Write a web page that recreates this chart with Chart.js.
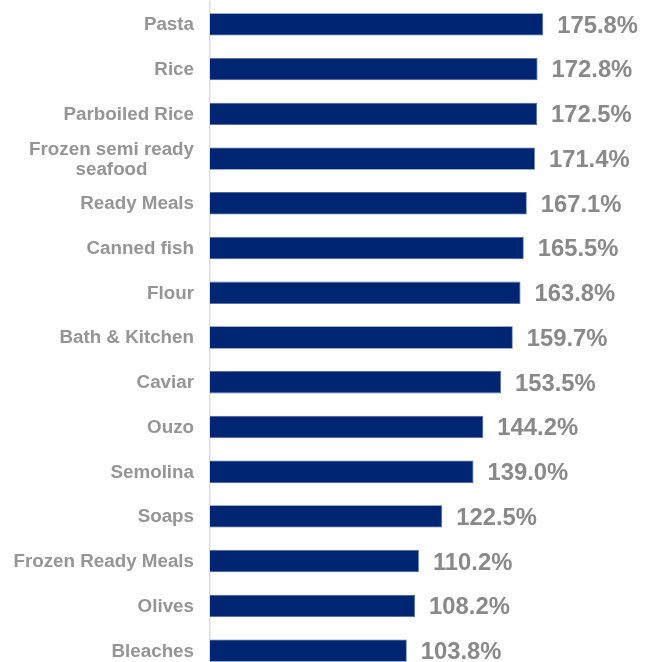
<!DOCTYPE html>
<html>
<head>
<meta charset="utf-8">
<script src="https://cdn.jsdelivr.net/npm/chart.js@4/dist/chart.umd.min.js"></script>
<style>
  html, body { margin: 0; padding: 0; background: #ffffff; overflow: hidden; }
  #wrap { width: 648px; height: 662px; overflow: hidden; }
  canvas { display: block; }
</style>
</head>
<body>
<div id="wrap"><canvas id="chart" width="648" height="673"></canvas></div>
<script>
// Categories (top to bottom) and their index values in percent
const categories = [
  'Pasta',
  'Rice',
  'Parboiled Rice',
  ['Frozen semi ready', 'seafood'],
  'Ready Meals',
  'Canned fish',
  'Flour',
  'Bath & Kitchen',
  'Caviar',
  'Ouzo',
  'Semolina',
  'Soaps',
  'Frozen Ready Meals',
  'Olives',
  'Bleaches'
];
const values = [175.8, 172.8, 172.5, 171.4, 167.1, 165.5, 163.8, 159.7, 153.5, 144.2, 139.0, 122.5, 110.2, 108.2, 103.8];

const FONT = '"Liberation Sans", Arial, Helvetica, sans-serif';
const BAR_COLOR = '#002673';
const CAT_COLOR = '#959595';
const VAL_COLOR = '#898989';

// Category labels: block right-aligned next to the axis, lines centred inside the block
const categoryLabels = {
  id: 'categoryLabels',
  afterDraw(chart) {
    const yScale = chart.scales.y;
    const ctx = chart.ctx;
    ctx.save();
    ctx.font = 'bold 18.8px ' + FONT;
    ctx.fillStyle = CAT_COLOR;
    ctx.textAlign = 'center';
    ctx.textBaseline = 'middle';
    const right = yScale.right - 16;
    const lineH = 20;
    yScale.ticks.forEach((t, i) => {
      const label = categories[i];
      const lines = Array.isArray(label) ? label : [label];
      const w = Math.max(...lines.map(l => ctx.measureText(l).width));
      const cx = right - w / 2;
      const y = yScale.getPixelForTick(i);
      const y0 = y - (lines.length - 1) * lineH / 2;
      lines.forEach((l, k) => ctx.fillText(l, cx, y0 + k * lineH + 0.8));
    });
    ctx.restore();
  }
};

// Value labels to the right of each bar
const valueLabels = {
  id: 'valueLabels',
  afterDatasetsDraw(chart) {
    const ctx = chart.ctx;
    const meta = chart.getDatasetMeta(0);
    ctx.save();
    ctx.font = 'bold 23.8px ' + FONT;
    ctx.fillStyle = VAL_COLOR;
    ctx.textAlign = 'left';
    ctx.textBaseline = 'middle';
    meta.data.forEach((bar, i) => {
      ctx.fillText(values[i].toFixed(1) + '%', bar.x + 14, bar.y + 1.8);
    });
    ctx.restore();
  }
};

new Chart(document.getElementById('chart'), {
  type: 'bar',
  data: {
    labels: categories,
    datasets: [{
      data: values,
      backgroundColor: BAR_COLOR,
      borderColor: '#4d6aa3',
      borderWidth: 0.8,
      borderSkipped: 'left',
      categoryPercentage: 1.0,
      barPercentage: 0.5
    }]
  },
  options: {
    indexAxis: 'y',
    responsive: false,
    animation: false,
    devicePixelRatio: 1,
    layout: { padding: { top: 2, right: 2, bottom: 0, left: 0 } },
    plugins: {
      legend: { display: false },
      tooltip: { enabled: false }
    },
    scales: {
      x: {
        display: false,
        min: 0,
        max: 230
      },
      y: {
        afterFit(scale) { scale.width = 210; },
        grid: { display: false, drawTicks: false },
        border: { display: true, color: '#dcdcdc', width: 1.5 },
        ticks: { display: false }
      }
    }
  },
  plugins: [categoryLabels, valueLabels]
});
</script>
</body>
</html>
